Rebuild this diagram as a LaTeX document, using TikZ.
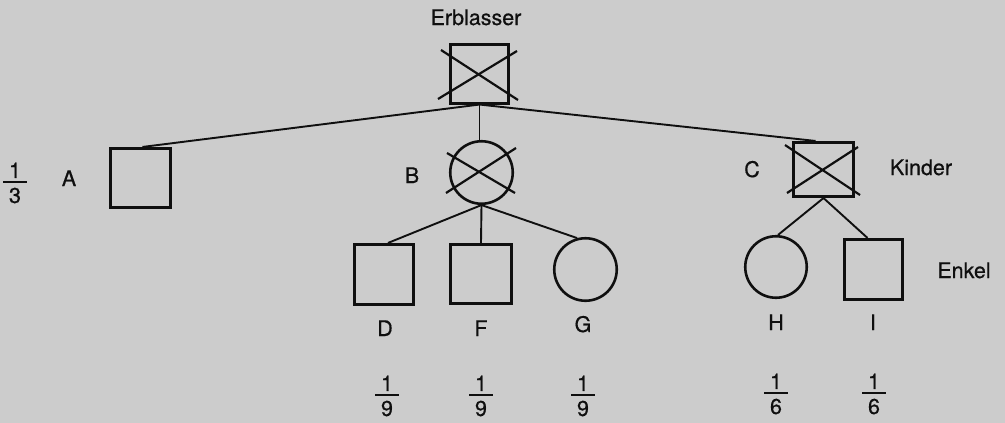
\documentclass[tikz,border=0pt]{standalone}
\usepackage{fontspec}
\setmainfont{TeX Gyre Heros}[FakeBold=0.6]
\definecolor{bg}{RGB}{204,204,204}
\definecolor{ink}{RGB}{15,15,15}
\newcommand{\myfrac}[2]{\vbox{\hbox to 24pt{\hss#1\hss}\kern3pt\hrule height 1.8pt\kern5pt\hbox to 24pt{\hss#2\hss}}}
\begin{document}
\begin{tikzpicture}[x=1pt,y=-1pt,
  every node/.style={font=\fontsize{21.5}{25}\selectfont, text=ink},
  lbl/.style={anchor=base, inner sep=0pt},
  frac/.style={inner sep=0pt, anchor=center},
  person/.style={draw=ink, line width=2.6pt, rectangle, inner sep=0pt},
  femme/.style={draw=ink, line width=2.6pt, circle, inner sep=0pt},
  cross/.style={draw=ink, line width=2.2pt},
  link/.style={draw=ink, line width=1.9pt}]
\fill[bg] (0,0) rectangle (1005,423);
\useasboundingbox (0,0) rectangle (1005,423);

% persons
\node[person, minimum width=58.5, minimum height=58.5] (E) at (479.5,74) {};
\node[person, minimum width=59.5, minimum height=59.5] (A) at (140.5,178) {};
\node[femme, minimum size=62.5] (B) at (481.5,172.5) {};
\node[person, minimum width=60.5, minimum height=54.5] (C) at (823.5,169.5) {};
\node[person, minimum width=59.5, minimum height=60.5] (D) at (384,274.5) {};
\node[person, minimum width=61.5, minimum height=59.5] (F) at (481,274) {};
\node[femme, minimum size=62.5] (G) at (585.5,269.5) {};
\node[femme, minimum size=61.5] (H) at (776,267) {};
\node[person, minimum width=58.5, minimum height=60.5] (I) at (873.5,269.5) {};

% crosses (deceased)
\draw[cross] ([shift={(-38.5,-24)}]E.center) -- ([shift={(38.5,26)}]E.center);
\draw[cross] ([shift={(-41.5,25)}]E.center) -- ([shift={(37.5,-23)}]E.center);
\draw[cross] ([shift={(-34.5,-19.5)}]B.center) -- ([shift={(33.5,20.5)}]B.center);
\draw[cross] ([shift={(-35.5,20.5)}]B.center) -- ([shift={(34.5,-24.5)}]B.center);
\draw[cross] ([shift={(-38.5,-24.5)}]C.center) -- ([shift={(36.5,25.5)}]C.center);
\draw[cross] ([shift={(-36.5,23.5)}]C.center) -- ([shift={(34.5,-22.5)}]C.center);

% connectors
\draw[link] (E.south) -- ([xshift=2]A.north);
\draw[link] (E.south) -- ([xshift=-8]C.north);
\draw[link] (E.south) -- (E.south |- B.north);
\draw[link] (B.south) -- ([xshift=4]D.north);
\draw[link] (B.south) -- (F.north);
\draw[link] (B.south) -- (G.105);
\draw[link] (C.south) -- ([xshift=2]H.north);
\draw[link] (C.south) -- ([xshift=-6]I.north);

% labels
\node[lbl] (tE) at (476,25) {Erblasser};
\node[lbl] (tA) at (69,186) {A};
\node[lbl] (tB) at (412,183) {B};
\node[lbl] (tC) at (752,177) {C};
\node[lbl] (tK) at (921,175) {Kinder};
\node[lbl] (tEn) at (964,278) {Enkel};
\node[lbl] (tD) at (385,336) {D};
\node[lbl] (tF) at (481,336) {F};
\node[lbl] (tG) at (583,332) {G};
\node[lbl] (tH) at (776,330) {H};
\node[lbl] (tI) at (873,330) {I};

% shares
\node[frac] (fA) at (15,183) {\myfrac{1}{3}};
\node[frac] (fD) at (387,396) {\myfrac{1}{9}};
\node[frac] (fF) at (481,396) {\myfrac{1}{9}};
\node[frac] (fG) at (583,396) {\myfrac{1}{9}};
\node[frac] (fH) at (776,394) {\myfrac{1}{6}};
\node[frac] (fI) at (874,394) {\myfrac{1}{6}};
\end{tikzpicture}
\end{document}
